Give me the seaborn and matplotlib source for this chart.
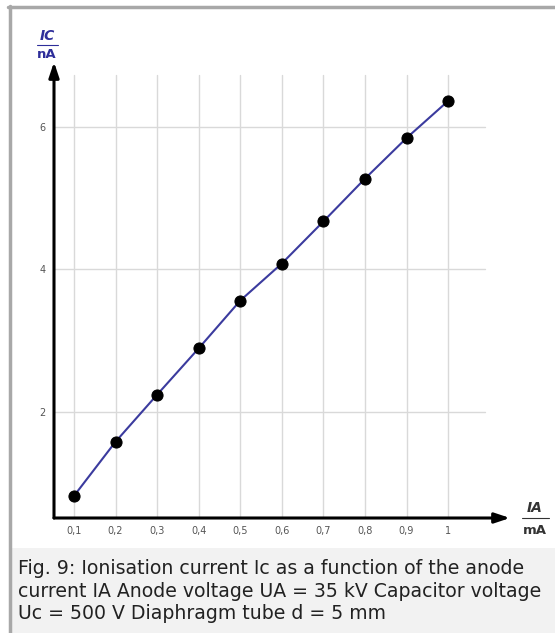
import matplotlib
matplotlib.use("Agg")
import matplotlib.pyplot as plt
import seaborn as sns
import pandas as pd
from matplotlib.patches import Rectangle
from matplotlib.lines import Line2D

# anode current IA (mA) and ionisation current IC (nA)
anode_current = [0.1, 0.2, 0.3, 0.4, 0.5, 0.6, 0.7, 0.8, 0.9, 1.0]
ion_current = [0.82, 1.58, 2.24, 2.89, 3.56, 4.08, 4.67, 5.27, 5.84, 6.36]
x_ticks = [0.1, 0.2, 0.3, 0.4, 0.5, 0.6, 0.7, 0.8, 0.9, 1.0]
x_tick_labels = ["0,1", "0,2", "0,3", "0,4", "0,5", "0,6", "0,7", "0,8", "0,9", "1"]
y_ticks = [2, 4, 6]
y_tick_labels = ["2", "4", "6"]
caption = ("Fig. 9: Ionisation current Ic as a function of the anode\n"
           "current IA Anode voltage UA = 35 kV Capacitor voltage\n"
           "Uc = 500 V Diaphragm tube d = 5 mm")

df = pd.DataFrame({"IA": anode_current, "IC": ion_current})

sns.set_style("white")
plt.rcParams["font.family"] = ["DejaVu Sans"]

W, H = 555, 633
fig = plt.figure(figsize=(W / 100, H / 100), dpi=100)
fig.patch.set_facecolor("white")

def fx(px):
    return px / W

def fy(py):
    return 1 - py / H

# frame and caption box
fig.patches.append(Rectangle((fx(12), 0), fx(W - 12), fy(548), transform=fig.transFigure,
                             facecolor="#f2f2f2", edgecolor="none", zorder=0))
fig.lines.append(Line2D([fx(8), 1], [fy(7), fy(7)], transform=fig.transFigure,
                        color="#a8a8a8", lw=2.5))
fig.lines.append(Line2D([fx(10), fx(10)], [0, fy(6)], transform=fig.transFigure,
                        color="#a8a8a8", lw=2.5))
fig.text(fx(18), fy(559), caption, ha="left", va="top", fontsize=13.6,
         color="#222222", linespacing=1.24)

# axes: pixel box 54..510 x 62..518
ax = fig.add_axes([fx(54), fy(518), fx(510 - 54), fy(62) - fy(518)])
ax.set_facecolor("none")
xmin, xmax = 0.0519, 1.149
ymin, ymax = 0.51, 6.907
ax.set_xlim(xmin, xmax)
ax.set_ylim(ymin, ymax)
for s in ax.spines.values():
    s.set_visible(False)

# grid
for xv in x_ticks:
    ax.plot([xv, xv], [ymin, 6.72], color="#d9d9d9", lw=1, zorder=1)
for yv in y_ticks:
    ax.plot([xmin, 1.089], [yv, yv], color="#d9d9d9", lw=1, zorder=1)

sns.lineplot(data=df, x="IA", y="IC", ax=ax, color="#3b3b9e", lw=1.5,
             marker="o", markersize=8, markerfacecolor="black",
             markeredgecolor="black", zorder=3)

# arrow axes
ax.annotate("", xy=(xmax, ymin), xytext=(xmin, ymin),
            arrowprops=dict(arrowstyle="-|>,head_length=0.9,head_width=0.3",
                            color="black", lw=2.2, shrinkA=0, shrinkB=0),
            annotation_clip=False, zorder=4)
ax.annotate("", xy=(xmin, ymax), xytext=(xmin, ymin),
            arrowprops=dict(arrowstyle="-|>,head_length=0.9,head_width=0.3",
                            color="black", lw=2.2, shrinkA=0, shrinkB=0),
            annotation_clip=False, zorder=4)

ax.set_xticks(x_ticks)
ax.set_xticklabels(x_tick_labels)
ax.set_yticks(y_ticks)
ax.set_yticklabels(y_tick_labels)
ax.tick_params(axis="both", length=3, width=0.8, color="#888888",
               labelsize=7, labelcolor="#555555", pad=3)
ax.set_xlabel("")
ax.set_ylabel("")

# unit labels
fig.text(fx(47), fy(36), "IC", ha="center", va="center", fontsize=10,
         fontstyle="italic", fontweight="bold", color="#2e2e9a")
fig.lines.append(Line2D([fx(37), fx(58)], [fy(45), fy(45)], transform=fig.transFigure,
                        color="#2e2e9a", lw=0.8))
fig.text(fx(47), fy(54), "nA", ha="center", va="center", fontsize=9.5,
         fontweight="bold", color="#2e2e9a")

fig.text(fx(535), fy(508), "IA", ha="center", va="center", fontsize=10,
         fontstyle="italic", fontweight="bold", color="#333333")
fig.lines.append(Line2D([fx(522), fx(549)], [fy(518), fy(518)], transform=fig.transFigure,
                        color="#333333", lw=0.8))
fig.text(fx(535), fy(531), "mA", ha="center", va="center", fontsize=9.5,
         fontweight="bold", color="#333333")

fig.savefig("out.png", dpi=100)
